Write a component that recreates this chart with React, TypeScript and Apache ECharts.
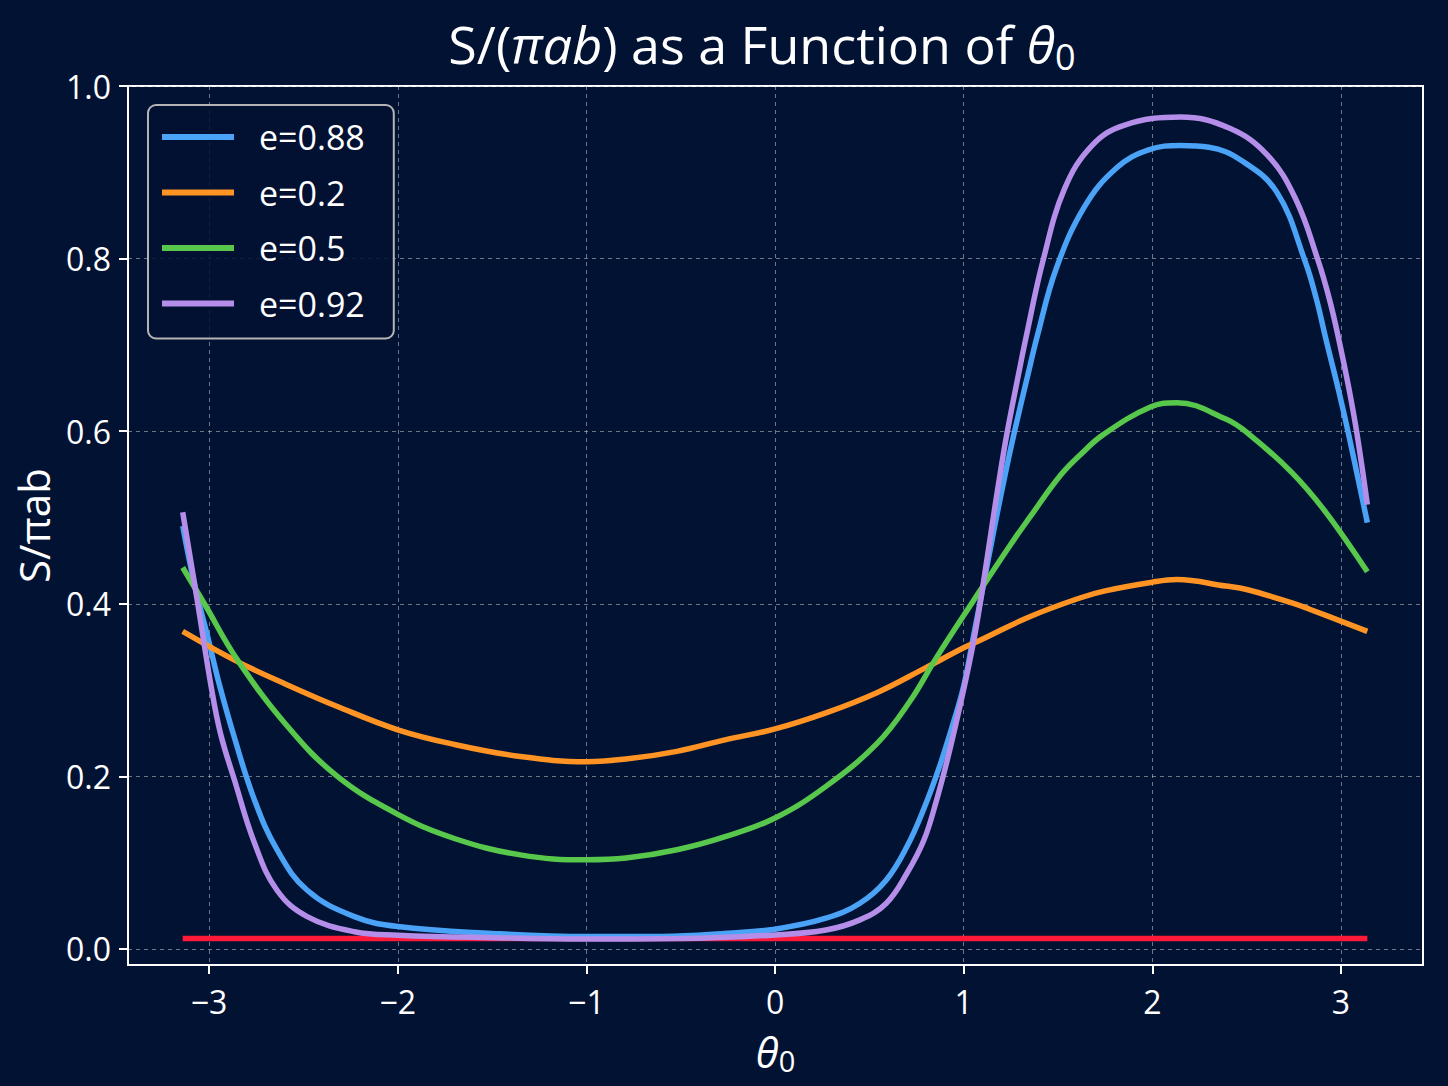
import React, { useEffect, useRef } from "react";
import * as echarts from "echarts";

// ---- data ----
const xTicks = [-3, -2, -1, 0, 1, 2, 3];
const yTicks = [0, 0.2, 0.4, 0.6, 0.8, 1.0];

const seriesNames = ["e=0.88", "e=0.2", "e=0.5", "e=0.92"];

// e = 0.88 (blue)
const theta088 = [-3.14, -3.08, -3.0, -2.95, -2.866, -2.76, -2.64, -2.48, -2.23, -2.0, -1.5, -1.0, -0.6, -0.25, 0, 0.27, 0.45, 0.59, 0.7, 0.79, 0.87, 0.945, 1.0, 1.05, 1.09, 1.16, 1.22, 1.27, 1.34, 1.39, 1.49, 1.64, 1.81, 1.98, 2.15, 2.3, 2.47, 2.66, 2.81, 2.87, 2.92, 2.99, 3.04, 3.14];
const values088 = [0.49, 0.425, 0.355, 0.31, 0.245, 0.173, 0.115, 0.068, 0.0375, 0.026, 0.018, 0.0143, 0.0145, 0.0182, 0.0229, 0.0356, 0.053, 0.08, 0.119, 0.163, 0.21, 0.262, 0.3045, 0.36, 0.405, 0.485, 0.55, 0.6, 0.665, 0.71, 0.788, 0.86, 0.905, 0.926, 0.931, 0.929, 0.914, 0.877, 0.797, 0.753, 0.707, 0.645, 0.597, 0.494];

// e = 0.2 (orange)
const theta02 = [-3.14, -2.85, -2.585, -2.32, -2.0, -1.7, -1.35, -1.0, -0.79, -0.52, -0.26, 0, 0.27, 0.54, 0.8, 1.0, 1.09, 1.35, 1.62, 1.75, 2.0, 2.13, 2.39, 2.5, 2.74, 2.83, 3.14];
const values02 = [0.368, 0.333, 0.306, 0.281, 0.254, 0.237, 0.223, 0.217, 0.22, 0.229, 0.2426, 0.255, 0.2736, 0.297, 0.326, 0.349, 0.358, 0.385, 0.407, 0.415, 0.425, 0.428, 0.4205, 0.4165, 0.401, 0.394, 0.368];

// e = 0.5 (green)
const theta05 = [-3.14, -3.025, -2.85, -2.585, -2.32, -2.0, -1.7, -1.35, -1.0, -0.79, -0.52, -0.26, 0, 0.27, 0.54, 0.715, 0.854, 1.05, 1.25, 1.35, 1.51, 1.62, 1.74, 1.99, 2.13, 2.39, 2.51, 2.74, 2.92, 3.14];
const values05 = [0.442, 0.4, 0.335, 0.258, 0.2, 0.156, 0.128, 0.109, 0.1033, 0.1053, 0.1149, 0.1304, 0.1517, 0.1884, 0.238, 0.287, 0.337, 0.403, 0.469, 0.5, 0.548, 0.573, 0.596, 0.628, 0.633, 0.614, 0.597, 0.552, 0.506, 0.437];

// e = 0.92 (purple)
const theta092 = [-3.14, -3.06, -2.99, -2.94, -2.866, -2.76, -2.64, -2.48, -2.23, -2.0, -1.5, -1.0, -0.5, 0, 0.27, 0.45, 0.59, 0.7, 0.79, 0.857, 0.918, 0.98, 1.024, 1.06, 1.1, 1.15, 1.195, 1.23, 1.29, 1.33, 1.42, 1.535, 1.68, 1.85, 2.15, 2.41, 2.61, 2.76, 2.88, 2.94, 2.99, 3.04, 3.085, 3.14];
const values092 = [0.506, 0.4, 0.305, 0.25, 0.196, 0.123, 0.068, 0.0375, 0.02, 0.016, 0.013, 0.0115, 0.012, 0.0163, 0.022, 0.0337, 0.053, 0.088, 0.1265, 0.173, 0.2232, 0.281, 0.325, 0.365, 0.418, 0.49, 0.553, 0.598, 0.665, 0.708, 0.797, 0.881, 0.931, 0.9545, 0.964, 0.951, 0.92, 0.869, 0.797, 0.752, 0.705, 0.652, 0.597, 0.515];

// reference line (red)
const thetaRef = [-3.14, 3.14];
const valuesRef = [0.012, 0.012];

const COLORS = ["#4ba3f7", "#ff9424", "#57c84c", "#b48ee8"];
const RED = "#ff1a3a";
const BG = "#021233";
const FONT = '"Open Sans", "Noto Sans", "DejaVu Sans", sans-serif';

const zip = (xs: number[], ys: number[]) => xs.map((x, i) => [x, ys[i]]);

const fmtX = (v: number) => (v < 0 ? "\u2212" + Math.abs(v) : String(v));

export default function App() {
  const ref = useRef<HTMLDivElement>(null);

  useEffect(() => {
    document.body.style.margin = "0";
    document.body.style.background = BG;
    if (!ref.current) return;
    const chart = echarts.init(ref.current, undefined, { renderer: "svg" });

    const lineSeries = (name: string, xs: number[], ys: number[], color: string, z: number) => ({
      name,
      type: "line",
      data: zip(xs, ys),
      showSymbol: false,
      smooth: 0.4,
      color,
      lineStyle: { color, width: 5.5 },
      z,
    });

    const option = {
      animation: false,
      backgroundColor: BG,
      textStyle: { fontFamily: FONT },
      title: {
        left: 762,
        top: 12,
        textAlign: "center",
        padding: 0,
        text: "{n|S/(}{i|πab}{n|) as a Function of }{i|θ}{s|0}",
        textStyle: {
          fontWeight: "normal",
          rich: {
            n: { fontSize: 52, lineHeight: 62, color: "#ffffff", fontWeight: "normal", fontFamily: FONT },
            i: { fontSize: 52, lineHeight: 62, color: "#ffffff", fontWeight: "normal", fontStyle: "italic", fontFamily: FONT },
            s: { fontSize: 36, lineHeight: 36, color: "#ffffff", fontWeight: "normal", fontFamily: FONT, verticalAlign: "bottom" },
          },
        },
      },
      legend: {
        data: seriesNames,
        left: 148,
        top: 105,
        orient: "vertical",
        icon: "rect",
        itemWidth: 72,
        itemHeight: 6,
        itemGap: 21.5,
        padding: [15, 29, 18, 14],
        backgroundColor: "rgba(2,18,51,0.85)",
        borderColor: "#b4b4b4",
        borderWidth: 2,
        borderRadius: 8,
        textStyle: { color: "#ffffff", fontSize: 34, lineHeight: 34, fontFamily: FONT, padding: [0, 0, 0, 20] },
      },
      grid: {
        left: 128,
        right: 25,
        top: 86,
        bottom: 121,
        show: true,
        borderColor: "#ffffff",
        borderWidth: 2,
        backgroundColor: "transparent",
      },
      xAxis: {
        type: "value",
        min: -3.43,
        max: 3.435,
        name: "{i|θ}{s|0}",
        nameLocation: "middle",
        nameGap: 62,
        nameTextStyle: {
          rich: {
            i: { fontSize: 42, lineHeight: 48, color: "#ffffff", fontStyle: "italic", fontFamily: FONT },
            s: { fontSize: 29, lineHeight: 30, color: "#ffffff", fontFamily: FONT, verticalAlign: "bottom" },
          },
        },
        axisLine: { show: true, onZero: false, lineStyle: { color: "#ffffff", width: 2 } },
        axisTick: { show: true, length: 9, customValues: xTicks, lineStyle: { color: "#ffffff", width: 2 } },
        axisLabel: { customValues: xTicks, formatter: fmtX, color: "#ffffff", fontSize: 32, margin: 20, fontFamily: FONT },
        splitLine: { show: true, lineStyle: { color: "rgba(200,200,200,0.55)", width: 1, type: [4, 4] } },
      },
      yAxis: {
        type: "value",
        min: -0.0186,
        max: 1.0,
        name: "S/πab",
        nameLocation: "middle",
        nameGap: 74,
        nameTextStyle: { color: "#ffffff", fontSize: 42, fontFamily: FONT },
        axisLine: { show: true, onZero: false, lineStyle: { color: "#ffffff", width: 2 } },
        axisTick: { show: true, length: 9, customValues: yTicks, lineStyle: { color: "#ffffff", width: 2 } },
        axisLabel: { customValues: yTicks, formatter: (v: number) => v.toFixed(1), color: "#ffffff", fontSize: 32, margin: 17, fontFamily: FONT },
        splitLine: { show: true, lineStyle: { color: "rgba(200,200,200,0.55)", width: 1, type: [4, 4] } },
      },
      series: [
        {
          name: "ref",
          type: "line",
          data: zip(thetaRef, valuesRef),
          showSymbol: false,
          color: RED,
          lineStyle: { color: RED, width: 5.5 },
          z: 1,
        },
        lineSeries(seriesNames[0], theta088, values088, COLORS[0], 2),
        lineSeries(seriesNames[1], theta02, values02, COLORS[1], 3),
        lineSeries(seriesNames[2], theta05, values05, COLORS[2], 4),
        lineSeries(seriesNames[3], theta092, values092, COLORS[3], 5),
      ],
    };

    chart.setOption(option as any);
    return () => chart.dispose();
  }, []);

  return <div ref={ref} style={{ width: 1448, height: 1086 }} />;
}
